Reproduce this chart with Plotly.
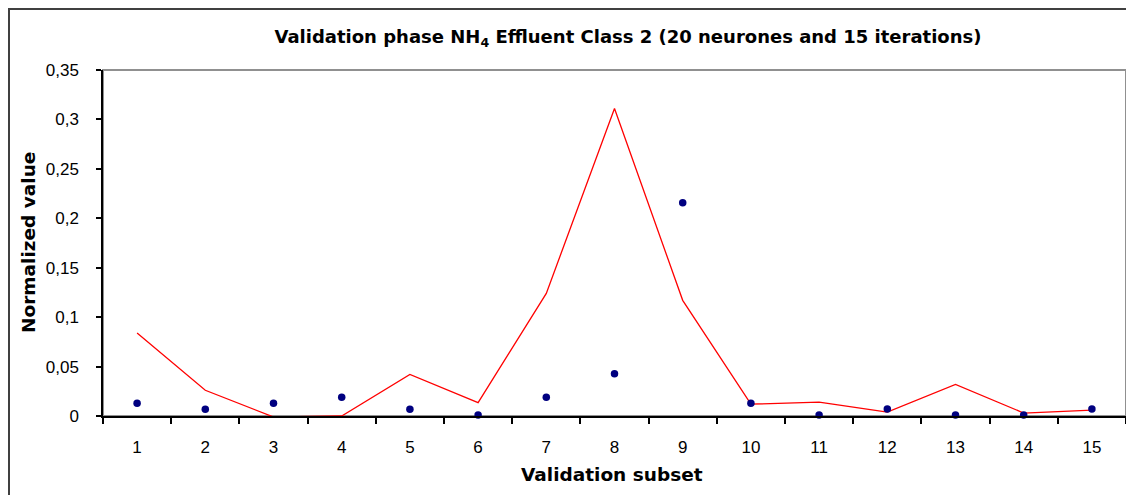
import plotly.graph_objects as go

subsets = [str(i) for i in range(1, 16)]
model_values = [0.084, 0.026, -0.001, 0.0, 0.042, 0.0135, 0.124, 0.311, 0.117,
                0.012, 0.014, 0.004, 0.032, 0.003, 0.006]
observed_values = [0.0128, 0.0068, 0.0128, 0.019, 0.0068, 0.001, 0.019, 0.0428, 0.2158,
                   0.0128, 0.001, 0.007, 0.001, 0.001, 0.007]
y_tick_vals = [0, 0.05, 0.1, 0.15, 0.2, 0.25, 0.3, 0.35]
y_tick_text = ["0", "0,05", "0,1", "0,15", "0,2", "0,25", "0,3", "0,35"]

TICK_FONT = "Liberation Sans, Arial, sans-serif"
BOLD_FONT = "DejaVu Sans, Verdana, sans-serif"

# page body has an 8px margin, so work in page pixels and shift by OFF
OFF = 8
W, H = 1134 - OFF, 495 - OFF
L = 103 - OFF
T = 70 - OFF
PLOT_RIGHT = 1126 - OFF
PLOT_BOTTOM = 416 - OFF
R = W - PLOT_RIGHT
B = H - PLOT_BOTTOM
PW, PH = W - L - R, H - T - B

def px_x(x):
    return (x - OFF - L) / PW

def px_y(y):
    return (PLOT_BOTTOM - (y - OFF)) / PH

fig = go.Figure()
fig.add_trace(go.Scatter(x=subsets, y=model_values, mode="lines",
                         line=dict(color="#ff0000", width=1.3), showlegend=False))
fig.add_trace(go.Scatter(x=subsets, y=observed_values, mode="markers",
                         marker=dict(color="#000080", size=7.5, symbol="circle"),
                         showlegend=False, cliponaxis=False))

fig.update_layout(
    width=W, height=H,
    margin=dict(l=L, r=R, t=T, b=B, autoexpand=False),
    paper_bgcolor="white", plot_bgcolor="white",
    font=dict(family=TICK_FONT, color="black", size=17),
    title=dict(text="<b>Validation phase NH<sub>4</sub> Effluent Class 2 (20 neurones and 15 iterations)</b>",
               xref="paper", x=px_x(628), xanchor="center",
               yref="container", y=1 - (37 - OFF) / H, yanchor="middle",
               font=dict(family=BOLD_FONT, size=18, color="black")),
    annotations=[
        dict(text="<b>Validation subset</b>", xref="paper", yref="paper",
             x=px_x(612), y=px_y(475), xanchor="center", yanchor="middle", showarrow=False,
             font=dict(family=BOLD_FONT, size=18.5, color="black")),
        dict(text="<b>Normalized value</b>", xref="paper", yref="paper", textangle=-90,
             x=px_x(28), y=px_y(243), xanchor="center", yanchor="middle", showarrow=False,
             font=dict(family=BOLD_FONT, size=18.5, color="black")),
    ],
    shapes=[dict(type="rect", xref="paper", yref="paper",
                 x0=px_x(OFF + 1), x1=px_x(1170), y0=px_y(530), y1=px_y(OFF + 1),
                 line=dict(color="#404040", width=2), layer="below"),
            dict(type="rect", xref="paper", yref="paper", x0=0, x1=1, y0=0, y1=1,
                 line=dict(color="#909090", width=2), layer="below")],
)
fig.update_xaxes(type="category", range=[-0.5, len(subsets) - 0.5],
                 tickson="boundaries", ticks="outside", ticklen=6,
                 tickcolor="black", tickwidth=1.5, showline=True, linecolor="black", linewidth=1.5,
                 showgrid=False, zeroline=False, automargin=False,
                 tickfont=dict(size=17, family=TICK_FONT), ticklabelstandoff=15)
fig.update_yaxes(range=[0, 0.35], tickvals=y_tick_vals, ticktext=y_tick_text,
                 ticks="outside", ticklen=5, tickcolor="black", tickwidth=1.5,
                 showline=True, linecolor="black", linewidth=1.5,
                 showgrid=False, zeroline=False, automargin=False,
                 tickfont=dict(size=17, family=TICK_FONT), ticklabelstandoff=14)

fig.write_html("out.html")
